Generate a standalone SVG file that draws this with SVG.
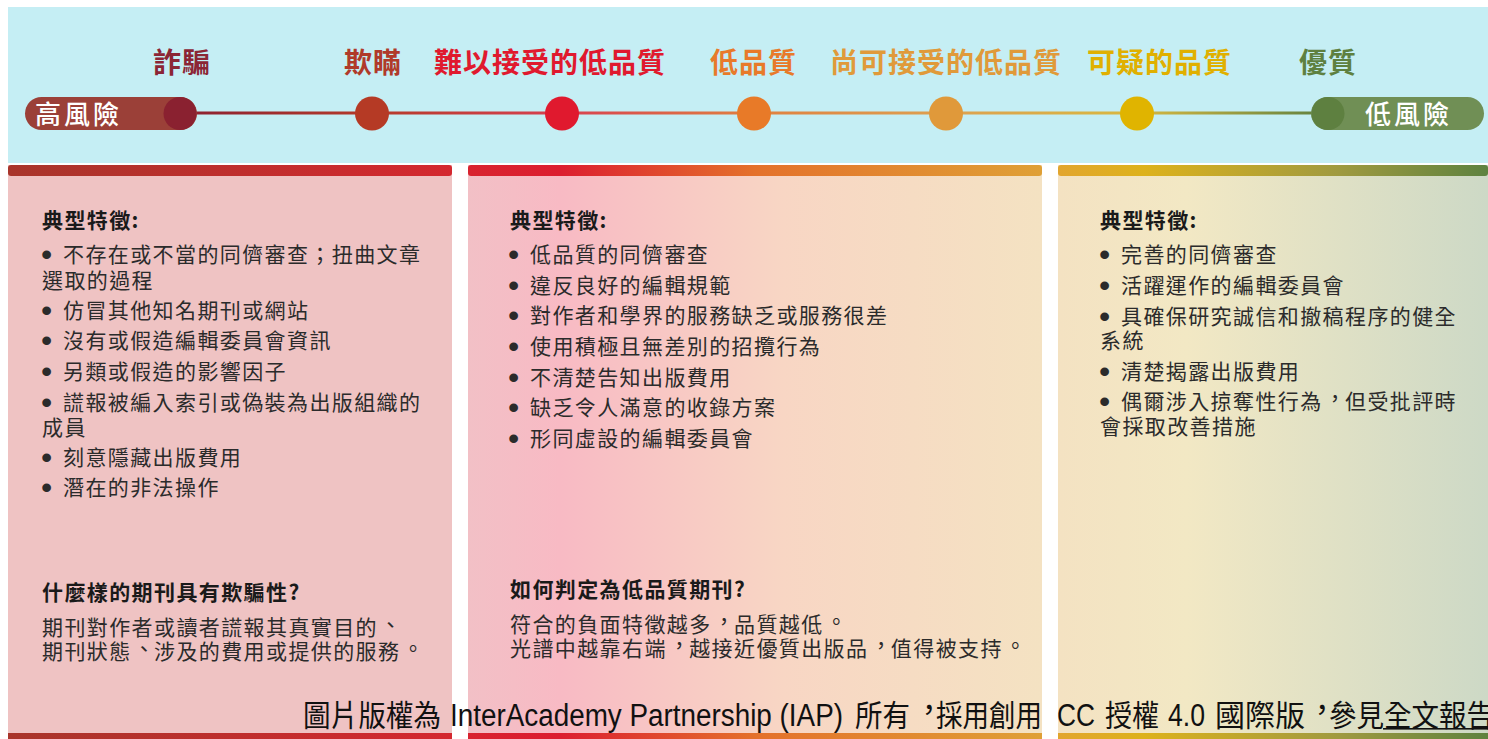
<svg xmlns="http://www.w3.org/2000/svg" width="1488" height="739" viewBox="0 0 1488 739" xml:lang="zh-TW" lang="zh-TW">
<defs>
<style>
.lbl{font-family:"Noto Sans CJK TC","Liberation Sans",sans-serif;font-size:28px;font-weight:700;letter-spacing:1px}
.pill{font-family:"Noto Sans CJK TC","Liberation Sans",sans-serif;font-size:26px;font-weight:500;letter-spacing:3px;fill:#ffffff}
.h{font-family:"Noto Sans CJK TC","Liberation Sans",sans-serif;font-size:21px;font-weight:700;letter-spacing:1.4px;fill:#1a1a1a}
.t{font-family:"Noto Sans CJK TC","Liberation Sans",sans-serif;font-size:21px;font-weight:400;letter-spacing:1.4px;fill:#2b2b2b}
.b{font-family:"Liberation Sans",sans-serif;font-size:32px;letter-spacing:0}
.cap{font-family:"Liberation Sans","Noto Sans CJK TC",sans-serif;font-size:30px;fill:#111111}
.capl{font-family:"Liberation Sans",sans-serif;font-size:31px;fill:#111111}
</style>
<linearGradient id="gLine" gradientUnits="userSpaceOnUse" x1="180" y1="0" x2="1328" y2="0">
<stop offset="0" stop-color="#8B2030"/>
<stop offset="0.167" stop-color="#B53A2A"/>
<stop offset="0.333" stop-color="#D84050"/>
<stop offset="0.5" stop-color="#E08040"/>
<stop offset="0.667" stop-color="#DDA050"/>
<stop offset="0.833" stop-color="#D8B840"/>
<stop offset="1" stop-color="#5E8040"/>
</linearGradient>
<linearGradient id="gBar1" gradientUnits="userSpaceOnUse" x1="8" y1="0" x2="452" y2="0">
<stop offset="0" stop-color="#A8352B"/>
<stop offset="1" stop-color="#D4282F"/>
</linearGradient>
<linearGradient id="gBar2" gradientUnits="userSpaceOnUse" x1="468" y1="0" x2="1042" y2="0">
<stop offset="0" stop-color="#D8232F"/>
<stop offset="0.16" stop-color="#DC1E30"/>
<stop offset="0.5" stop-color="#E4712B"/>
<stop offset="1" stop-color="#DFA036"/>
</linearGradient>
<linearGradient id="gBar3" gradientUnits="userSpaceOnUse" x1="1058" y1="0" x2="1488" y2="0">
<stop offset="0" stop-color="#E2A52E"/>
<stop offset="0.2" stop-color="#DDB21C"/>
<stop offset="0.65" stop-color="#A09A40"/>
<stop offset="1" stop-color="#5E8240"/>
</linearGradient>
<linearGradient id="gBody2" gradientUnits="userSpaceOnUse" x1="468" y1="0" x2="1042" y2="0">
<stop offset="0" stop-color="#F2C0C6"/>
<stop offset="0.16" stop-color="#F8BAC4"/>
<stop offset="0.55" stop-color="#F8D6C4"/>
<stop offset="1" stop-color="#F4E2C2"/>
</linearGradient>
<linearGradient id="gBody3" gradientUnits="userSpaceOnUse" x1="1058" y1="0" x2="1488" y2="0">
<stop offset="0" stop-color="#F4E2C2"/>
<stop offset="0.3" stop-color="#F2E8C4"/>
<stop offset="1" stop-color="#CDD9C6"/>
</linearGradient>
</defs>
<rect x="0" y="0" width="1488" height="739" fill="#ffffff"/>
<rect id="band" x="8" y="7" width="1480" height="156" fill="#C5EEF4"/>

<g id="connectors">
<line x1="190" y1="113" x2="1320" y2="113" stroke="url(#gLine)" stroke-width="3"/>
</g>

<g id="node-high-risk">
<rect x="25" y="97" width="172" height="33" rx="16.5" fill="#9B4038"/>
<circle cx="180" cy="113.5" r="16.5" fill="#8A2130"/>
<text class="pill" x="35" y="124">高風險</text>
<text class="lbl" x="153" y="73" fill="#8B2535">詐騙</text>
</g>
<g id="node-deceptive">
<circle cx="372" cy="113.5" r="17" fill="#B53A25"/>
<text class="lbl" x="344" y="73" fill="#B03A2A">欺瞞</text>
</g>
<g id="node-unacceptable">
<circle cx="562" cy="113.5" r="17" fill="#E0192E"/>
<text class="lbl" x="434" y="73" fill="#E0192E">難以接受的低品質</text>
</g>
<g id="node-low">
<circle cx="754" cy="113.5" r="17" fill="#E87A28"/>
<text class="lbl" x="710" y="73" fill="#E87A2A">低品質</text>
</g>
<g id="node-acceptable-low">
<circle cx="946" cy="113.5" r="17" fill="#E0993A"/>
<text class="lbl" x="830" y="73" fill="#E09A3A">尚可接受的低品質</text>
</g>
<g id="node-questionable">
<circle cx="1137" cy="113.5" r="17" fill="#E0B400"/>
<text class="lbl" x="1087" y="73" fill="#E0B000">可疑的品質</text>
</g>
<g id="node-low-risk">
<rect x="1311" y="97" width="173" height="33" rx="16.5" fill="#708F55"/>
<circle cx="1328" cy="113.5" r="16.5" fill="#5E8040"/>
<text class="pill" x="1365" y="124">低風險</text>
<text class="lbl" x="1299" y="73" fill="#5E8040">優質</text>
</g>

<g id="panel-predatory">
<rect x="8" y="165" width="444" height="574" fill="#EFC3C3"/>
<rect x="8" y="165" width="444" height="11" rx="3" fill="url(#gBar1)"/>
<rect x="8" y="733" width="444" height="6" fill="url(#gBar1)"/>
<text class="h" x="42" y="228">典型特徵:</text>
<text class="t" y="262"><tspan class="b" x="41" dy="3">•</tspan><tspan x="63" dy="-3">不存在或不當的同儕審查；扭曲文章</tspan></text>
<text class="t" x="42" y="288">選取的過程</text>
<text class="t" y="318"><tspan class="b" x="41" dy="3">•</tspan><tspan x="63" dy="-3">仿冒其他知名期刊或網站</tspan></text>
<text class="t" y="348"><tspan class="b" x="41" dy="3">•</tspan><tspan x="63" dy="-3">沒有或假造編輯委員會資訊</tspan></text>
<text class="t" y="379"><tspan class="b" x="41" dy="3">•</tspan><tspan x="63" dy="-3">另類或假造的影響因子</tspan></text>
<text class="t" y="410"><tspan class="b" x="41" dy="3">•</tspan><tspan x="63" dy="-3">謊報被編入索引或偽裝為出版組織的</tspan></text>
<text class="t" x="42" y="435">成員</text>
<text class="t" y="465"><tspan class="b" x="41" dy="3">•</tspan><tspan x="63" dy="-3">刻意隱藏出版費用</tspan></text>
<text class="t" y="495"><tspan class="b" x="41" dy="3">•</tspan><tspan x="63" dy="-3">潛在的非法操作</tspan></text>
<text class="h" x="42" y="600">什麼樣的期刊具有欺騙性?</text>
<text class="t" x="42" y="635">期刊對作者或讀者謊報其真實目的<tspan dx="2" dy="-3">、</tspan></text>
<text class="t" x="42" y="659">期刊狀態<tspan dx="2" dy="-3">、</tspan><tspan dx="-2" dy="3">涉及的費用或提供的服務</tspan><tspan dx="2" dy="-3">。</tspan></text>
</g>

<g id="panel-low-quality">
<rect x="468" y="165" width="574" height="574" fill="url(#gBody2)"/>
<rect x="468" y="165" width="574" height="11" rx="3" fill="url(#gBar2)"/>
<rect x="468" y="733" width="574" height="6" fill="url(#gBar2)"/>
<text class="h" x="510" y="228">典型特徵:</text>
<text class="t" y="262"><tspan class="b" x="508" dy="3">•</tspan><tspan x="530" dy="-3">低品質的同儕審查</tspan></text>
<text class="t" y="293"><tspan class="b" x="508" dy="3">•</tspan><tspan x="530" dy="-3">違反良好的編輯規範</tspan></text>
<text class="t" y="323"><tspan class="b" x="508" dy="3">•</tspan><tspan x="530" dy="-3">對作者和學界的服務缺乏或服務很差</tspan></text>
<text class="t" y="354"><tspan class="b" x="508" dy="3">•</tspan><tspan x="530" dy="-3">使用積極且無差別的招攬行為</tspan></text>
<text class="t" y="385"><tspan class="b" x="508" dy="3">•</tspan><tspan x="530" dy="-3">不清楚告知出版費用</tspan></text>
<text class="t" y="415"><tspan class="b" x="508" dy="3">•</tspan><tspan x="530" dy="-3">缺乏令人滿意的收錄方案</tspan></text>
<text class="t" y="446"><tspan class="b" x="508" dy="3">•</tspan><tspan x="530" dy="-3">形同虛設的編輯委員會</tspan></text>
<text class="h" x="510" y="597">如何判定為低品質期刊?</text>
<text class="t" x="510" y="632">符合的負面特徵越多<tspan dx="2" dy="-3">，</tspan><tspan dx="-2" dy="3">品質越低</tspan><tspan dx="2" dy="-3">。</tspan></text>
<text class="t" x="510" y="656">光譜中越靠右端<tspan dx="2" dy="-3">，</tspan><tspan dx="-2" dy="3">越接近優質出版品</tspan><tspan dx="2" dy="-3">，</tspan><tspan dx="-2" dy="3">值得被支持</tspan><tspan dx="2" dy="-3">。</tspan></text>
</g>

<g id="panel-high-quality">
<rect x="1058" y="165" width="430" height="574" fill="url(#gBody3)"/>
<rect x="1058" y="165" width="430" height="11" rx="3" fill="url(#gBar3)"/>
<rect x="1058" y="733" width="430" height="6" fill="url(#gBar3)"/>
<text class="h" x="1100" y="228">典型特徵:</text>
<text class="t" y="262"><tspan class="b" x="1099" dy="3">•</tspan><tspan x="1121" dy="-3">完善的同儕審查</tspan></text>
<text class="t" y="293"><tspan class="b" x="1099" dy="3">•</tspan><tspan x="1121" dy="-3">活躍運作的編輯委員會</tspan></text>
<text class="t" y="324"><tspan class="b" x="1099" dy="3">•</tspan><tspan x="1121" dy="-3">具確保研究誠信和撤稿程序的健全</tspan></text>
<text class="t" x="1100" y="348">系統</text>
<text class="t" y="379"><tspan class="b" x="1099" dy="3">•</tspan><tspan x="1121" dy="-3">清楚揭露出版費用</tspan></text>
<text class="t" y="409"><tspan class="b" x="1099" dy="3">•</tspan><tspan x="1121" dy="-3">偶爾涉入掠奪性行為</tspan><tspan dx="2" dy="-3">，</tspan><tspan dx="-2" dy="3">但受批評時</tspan></text>
<text class="t" x="1100" y="434">會採取改善措施</text>
</g>

<g id="caption">
<text class="cap" x="303" y="726" textLength="138" lengthAdjust="spacingAndGlyphs">圖片版權為</text>
<text class="capl" x="450" y="726" textLength="393" lengthAdjust="spacingAndGlyphs">InterAcademy Partnership (IAP)</text>
<text class="cap" x="855" y="726" textLength="55" lengthAdjust="spacingAndGlyphs">所有</text>
<text class="cap" x="914" y="720">，</text>
<text class="cap" x="936" y="726" textLength="106" lengthAdjust="spacingAndGlyphs">採用創用</text>
<text class="capl" x="1057" y="726" textLength="38" lengthAdjust="spacingAndGlyphs">CC</text>
<text class="cap" x="1105" y="726" textLength="54" lengthAdjust="spacingAndGlyphs">授權</text>
<text class="capl" x="1168" y="726" textLength="37" lengthAdjust="spacingAndGlyphs">4.0</text>
<text class="cap" x="1215" y="726" textLength="90" lengthAdjust="spacingAndGlyphs">國際版</text>
<text class="cap" x="1307" y="720">，</text>
<text class="cap" x="1329" y="726" textLength="165" lengthAdjust="spacingAndGlyphs">參見全文報告</text>
<rect x="1383" y="728" width="105" height="1.6" fill="#111111"/>
</g>
</svg>
